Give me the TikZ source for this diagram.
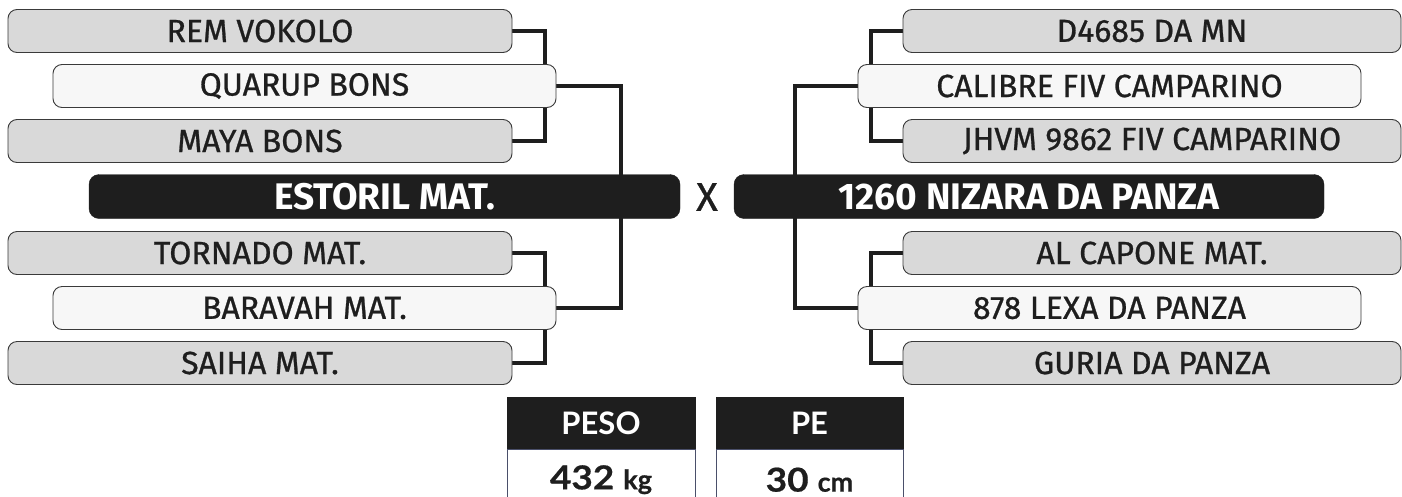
\documentclass[tikz,border=0pt]{standalone}
\usepackage{fontspec}
\setmainfont{Fira Sans}
\newfontfamily\labelfont[FakeBold=0.8]{Fira Sans}
\newfontfamily\statfont{Lato}
\newfontfamily\valfont[FakeStretch=1.12,FakeBold=0.5]{Lato}
\newfontfamily\unitfont[FakeBold=0.5]{Lato}
\usetikzlibrary{backgrounds}
\definecolor{boxgray}{HTML}{D9D9D9}
\definecolor{boxwhite}{HTML}{F7F7F7}
\definecolor{ink}{HTML}{1E1E1E}
\definecolor{edgecol}{HTML}{3A3A3A}
\definecolor{valedge}{HTML}{4A4F6A}
\tikzset{
  horse/.style={draw=edgecol, line width=0.9pt, rounded corners=9pt, minimum height=43pt,
    inner sep=0pt, text=ink, font=\labelfont\fontsize{32}{38}\selectfont},
  grayhorse/.style={horse, fill=boxgray, minimum width=504pt},
  whitehorse/.style={horse, fill=boxwhite, minimum width=503pt},
  mainhorse/.style={fill=ink, draw=ink, rounded corners=10pt, minimum height=44pt, minimum width=591pt,
    inner sep=0pt, text=white, font=\fontsize{37}{44}\selectfont\bfseries},
  conn/.style={draw=ink, line width=4pt, line join=miter},
  hdrbox/.style={fill=ink, draw=ink, minimum width=188pt, minimum height=52pt, inner sep=0pt,
    text=white, font=\statfont\fontsize{31}{36}\selectfont\bfseries},
  valbox/.style={fill=white, draw=valedge, line width=1pt, minimum width=188pt, minimum height=60pt,
    inner sep=0pt, text=ink, font=\valfont\fontsize{33}{38}\selectfont\bfseries},
}
\begin{document}
\begin{tikzpicture}[x=1pt,y=-1pt]
\useasboundingbox (0,0) rectangle (1402,496);
% left side
\node[grayhorse]  (rem)     at (260,31)    {REM VOKOLO};
\node[whitehorse] (quarup)  at (304.5,86)  {QUARUP BONS};
\node[grayhorse]  (maya)    at (260,141)   {MAYA BONS};
\node[mainhorse]  (estoril) at (384.5,196.5) {ESTORIL MAT.};
\node[grayhorse]  (tornado) at (260,253)   {TORNADO MAT.};
\node[whitehorse] (baravah) at (304.5,308) {BARAVAH MAT.};
\node[grayhorse]  (saiha)   at (260,363)   {SAIHA MAT.};
% right side
\node[grayhorse, minimum width=498pt]  (d4685)   at (1152,31)    {D4685 DA MN};
\node[whitehorse] (calibre) at (1109.5,86) {CALIBRE FIV CAMPARINO};
\node[grayhorse, minimum width=498pt]  (jhvm)    at (1152,141)   {JHVM 9862 FIV CAMPARINO};
\node[mainhorse, minimum width=590pt]  (nizara)  at (1029,196.5) {1260 NIZARA DA PANZA};
\node[grayhorse, minimum width=498pt]  (capone)  at (1152,253)   {AL CAPONE MAT.};
\node[whitehorse] (lexa)    at (1109.5,308) {878 LEXA DA PANZA};
\node[grayhorse, minimum width=498pt]  (guria)   at (1152,363)   {GURIA DA PANZA};
% versus
\node[text=ink, font=\labelfont\fontsize{40}{46}\selectfont, inner sep=0pt] (vs) at (707,197) {X};
% junctions
\coordinate (jL1) at (545,86);
\coordinate (jL2) at (621,196);
\coordinate (jL3) at (545,308);
\coordinate (jR1) at (871,86);
\coordinate (jR2) at (795,196);
\coordinate (jR3) at (871,308);
\begin{scope}[on background layer]
\draw[conn] (rem.east) -| (jL1) |- (maya.east);
\draw[conn] (tornado.east) -| (jL3) |- (saiha.east);
\draw[conn] (quarup.east) -| (jL2) |- (baravah.east);
\draw[conn] (d4685.west) -| (jR1) |- (jhvm.west);
\draw[conn] (capone.west) -| (jR3) |- (guria.west);
\draw[conn] (calibre.west) -| (jR2) |- (lexa.west);
\end{scope}
% stats
\node[hdrbox] (peso) at (601,423) {PESO};
\node[valbox, anchor=north] (pesov) at (peso.south) {432 {\unitfont\fontsize{27}{30}\selectfont\bfseries kg}};
\node[hdrbox, minimum width=187pt] (pe) at (809.5,423) {PE};
\node[valbox, minimum width=187pt, anchor=north] (pev) at (pe.south) {30 {\unitfont\fontsize{27}{30}\selectfont\bfseries cm}};
\end{tikzpicture}
\end{document}
